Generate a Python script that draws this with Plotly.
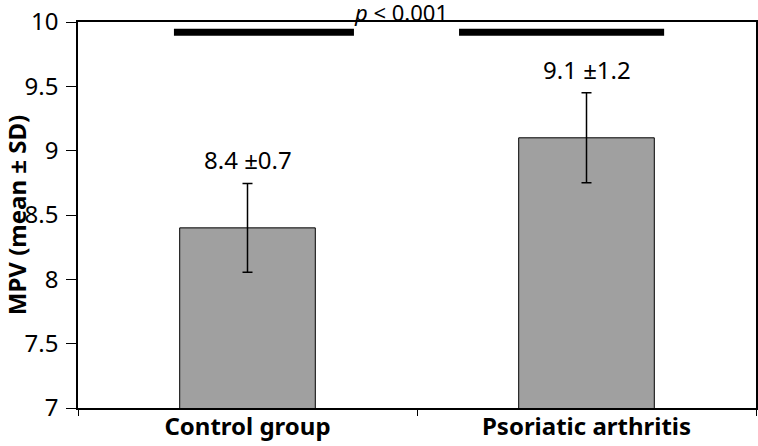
import plotly.graph_objects as go

categories = ["Control group", "Psoriatic arthritis"]
means = [8.4, 9.1]
err_drawn = [0.345, 0.35]
labels = ["8.4 ±0.7", "9.1 ±1.2"]
sig_text = "<i>p</i> &lt; 0.001"
sig_y = 9.92
sig_segments = [(-0.217, 0.314), (0.624, 1.229)]
y_ticks = [7, 7.5, 8, 8.5, 9, 9.5, 10]
y_tick_labels = ["7", "7.5", "8", "8.5", "9", "9.5", "10"]

FONT = "Noto Sans"
FS = 24

fig = go.Figure()
fig.add_trace(go.Bar(
    x=categories, y=means, width=0.4,
    base=0,
    marker=dict(color="#a0a0a0", line=dict(color="black", width=1)),
    error_y=dict(type="data", array=err_drawn, visible=True,
                 color="black", thickness=1.5, width=5),
    showlegend=False,
))

for c, m, e, t in zip(categories, means, err_drawn, labels):
    fig.add_annotation(x=c, y=m + e, text=t, showarrow=False,
                       yanchor="bottom", yshift=5,
                       font=dict(family=FONT, size=FS, color="black"))

for x0, x1 in sig_segments:
    fig.add_shape(type="line", xref="x", yref="y", x0=x0, x1=x1,
                  y0=sig_y, y1=sig_y, line=dict(color="black", width=7))

fig.add_annotation(x=0.5, y=10, xref="x", yref="y", text=sig_text,
                   showarrow=False, yanchor="bottom", yshift=-6, xshift=-16,
                   borderpad=0,
                   font=dict(family=FONT, size=22, color="black"))

fig.update_layout(
    width=758, height=446,
    margin=dict(l=78, r=2, t=22, b=38),
    plot_bgcolor="white", paper_bgcolor="white",
    font=dict(family=FONT, size=FS, color="black"),
    xaxis=dict(range=[-0.5, 1.5], showline=True, linecolor="black", linewidth=1.5,
               mirror=True, ticks="outside", ticklen=6, tickcolor="black",
               tickson="boundaries", showgrid=False, automargin=False,
               ticklabelstandoff=-4,
               tickfont=dict(family=FONT, size=FS, color="black", weight="bold")),
    yaxis=dict(range=[7, 10], showline=True, linecolor="black", linewidth=1.5,
               mirror=True, ticks="outside", ticklen=10, tickcolor="black",
               tickvals=y_ticks, ticktext=y_tick_labels, showgrid=False,
               zeroline=False, automargin=False, ticklabelstandoff=3,
               tickfont=dict(family=FONT, size=FS, color="black"),
               title=dict(text="MPV (mean ± SD)", standoff=0,
                          font=dict(family=FONT, size=FS, color="black", weight="bold"))),
)

fig.write_html("out.html", config={"displayModeBar": False},
               post_script="document.body.style.margin='0px';")
